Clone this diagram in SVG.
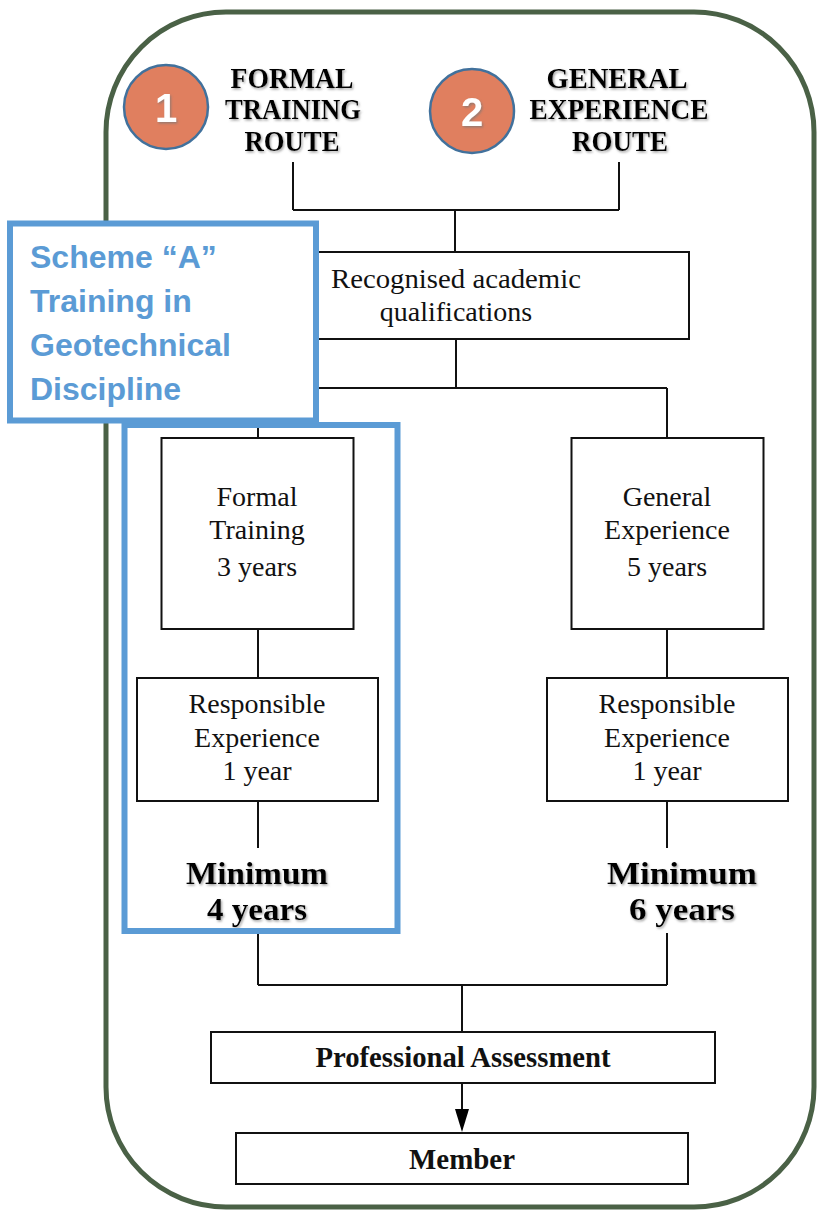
<svg xmlns="http://www.w3.org/2000/svg" width="818" height="1211" viewBox="0 0 818 1211">
<defs>
<style>
.box{fill:#fff;stroke:#111;stroke-width:2}
.ln{fill:none;stroke:#111;stroke-width:2}
.body{font-family:"Liberation Serif","Times New Roman",serif;font-size:28px;fill:#111;text-anchor:middle}
.head{font-family:"Liberation Serif","Times New Roman",serif;font-size:29px;font-weight:bold;fill:#000;text-anchor:middle}
.min{font-family:"Liberation Serif","Times New Roman",serif;font-size:32px;font-weight:bold;fill:#000;text-anchor:middle}
.bold{font-family:"Liberation Serif","Times New Roman",serif;font-size:30px;font-weight:bold;fill:#111;text-anchor:middle}
.blue{fill:none;stroke:#5b9bd5;stroke-width:6}
.btxt{font-family:"Liberation Sans",Arial,sans-serif;font-size:32px;font-weight:bold;fill:#5b9bd5}
.circ{fill:#e07f5f;stroke:#41719c;stroke-width:2.5}
.num{font-family:"Liberation Sans",Arial,sans-serif;font-size:40px;font-weight:bold;fill:#fff;text-anchor:middle}
</style>
<filter id="sh" x="-10%" y="-10%" width="130%" height="140%">
<feDropShadow dx="1.2" dy="1.5" stdDeviation="0.8" flood-color="#777" flood-opacity="0.7"/>
</filter>
</defs>
<rect width="818" height="1211" fill="#fff"/>
<rect id="frame" x="106" y="12" width="708" height="1195" rx="120" ry="120" fill="none" stroke="#4a6146" stroke-width="5"/>

<g id="connectors">
<path class="ln" d="M293,162 V210 M619,162 V210 M293,210 H619 M455,210 V252"/>
<path class="ln" d="M456,339 V388 M258,388 H667 M258,388 V438 M667,388 V438"/>
<path class="ln" d="M258,629 V678 M258,801 V848 M667,629 V678 M667,801 V848"/>
<path class="ln" d="M258,933 V985 M667,933 V985 M258,985 H667 M462,985 V1032"/>
<path class="ln" d="M462,1083 V1110"/>
<path d="M455,1109 L469,1109 L462,1132 Z" fill="#000"/>
</g>

<g id="route1">
<ellipse class="circ" cx="166" cy="107" rx="42" ry="42"/>
<text class="num" x="166" y="122" filter="url(#sh)">1</text>
<g class="head" filter="url(#sh)">
<text x="292" y="88" textLength="123" lengthAdjust="spacingAndGlyphs">FORMAL</text>
<text x="293" y="119" textLength="136" lengthAdjust="spacingAndGlyphs">TRAINING</text>
<text x="292" y="151" textLength="95" lengthAdjust="spacingAndGlyphs">ROUTE</text>
</g>
</g>

<g id="route2">
<ellipse class="circ" cx="472" cy="111" rx="42" ry="42"/>
<text class="num" x="472" y="126" filter="url(#sh)">2</text>
<g class="head" filter="url(#sh)">
<text x="617" y="88" textLength="141" lengthAdjust="spacingAndGlyphs">GENERAL</text>
<text x="619" y="119" textLength="179" lengthAdjust="spacingAndGlyphs">EXPERIENCE</text>
<text x="620" y="151" textLength="96" lengthAdjust="spacingAndGlyphs">ROUTE</text>
</g>
</g>

<g id="academic">
<rect class="box" x="225" y="252" width="464" height="87"/>
<text class="body" x="456" y="288" textLength="250" lengthAdjust="spacingAndGlyphs">Recognised academic</text>
<text class="body" x="456" y="321">qualifications</text>
</g>

<g id="formal-training">
<rect class="box" x="161.5" y="438" width="192" height="191"/>
<text class="body" x="257" y="506">Formal</text>
<text class="body" x="257" y="539">Training</text>
<text class="body" x="257" y="576">3 years</text>
</g>

<g id="resp1">
<rect class="box" x="137" y="678" width="241" height="123"/>
<text class="body" x="257" y="713">Responsible</text>
<text class="body" x="257" y="747">Experience</text>
<text class="body" x="257" y="780">1 year</text>
</g>

<g id="min1" class="min" filter="url(#sh)">
<text x="257" y="884" textLength="142" lengthAdjust="spacingAndGlyphs">Minimum</text>
<text x="257" y="920" textLength="100" lengthAdjust="spacingAndGlyphs">4 years</text>
</g>

<g id="general-experience">
<rect class="box" x="571.5" y="438" width="192" height="191"/>
<text class="body" x="667" y="506">General</text>
<text class="body" x="667" y="539">Experience</text>
<text class="body" x="667" y="576">5 years</text>
</g>

<g id="resp2">
<rect class="box" x="547" y="678" width="241" height="123"/>
<text class="body" x="667" y="713">Responsible</text>
<text class="body" x="667" y="747">Experience</text>
<text class="body" x="667" y="780">1 year</text>
</g>

<g id="min2" class="min" filter="url(#sh)">
<text x="682" y="884" textLength="150" lengthAdjust="spacingAndGlyphs">Minimum</text>
<text x="682" y="920" textLength="106" lengthAdjust="spacingAndGlyphs">6 years</text>
</g>

<g id="assessment">
<rect class="box" x="211" y="1032" width="504" height="51"/>
<text class="bold" x="463" y="1067" textLength="295" lengthAdjust="spacingAndGlyphs">Professional Assessment</text>
</g>

<g id="member">
<rect class="box" x="236" y="1133" width="452" height="51"/>
<text class="bold" x="462" y="1169" textLength="106" lengthAdjust="spacingAndGlyphs">Member</text>
</g>

<g id="scheme-a-group">
<rect class="blue" x="124.5" y="425" width="273" height="506"/>
</g>

<g id="scheme-a-label">
<rect x="10" y="223.5" width="306" height="197" fill="#fff" stroke="#5b9bd5" stroke-width="6"/>
<text class="btxt" x="30" y="268">Scheme “A”</text>
<text class="btxt" x="30" y="312">Training in</text>
<text class="btxt" x="30" y="356">Geotechnical</text>
<text class="btxt" x="30" y="400">Discipline</text>
</g>
</svg>
